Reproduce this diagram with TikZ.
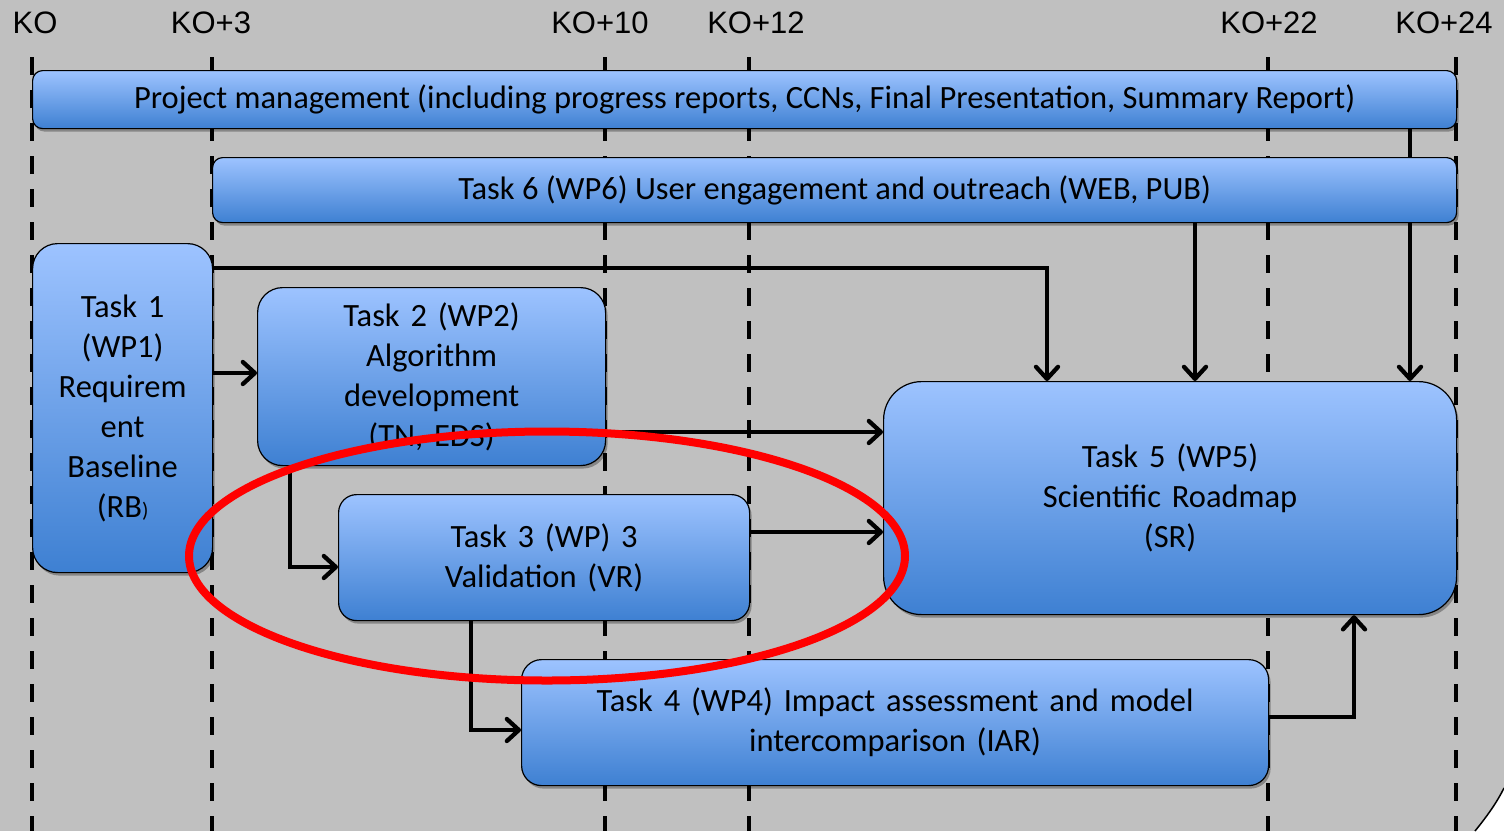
\documentclass[tikz,border=0pt]{standalone}
\usepackage{fontspec}
\setmainfont{Carlito}
\newfontfamily\arialfont{Liberation Sans}
\usetikzlibrary{arrows.meta,shadows,shapes.geometric}
\pgfdeclarelayer{back}
\pgfdeclarelayer{mid}
\pgfsetlayers{back,mid,main}
\definecolor{bgray}{RGB}{192,192,192}
\definecolor{btop}{RGB}{157,195,255}
\definecolor{bbot}{RGB}{62,128,210}
\tikzset{
  task/.style={draw=black, line width=1.2pt, top color=btop, bottom color=bbot,
    inner sep=0pt, anchor=north west, align=center,
    font=\fontsize{32.5}{40}\selectfont,
    drop shadow={shadow xshift=2pt, shadow yshift=-3pt, opacity=0.3, fill=black}},
  kolabel/.style={font=\arialfont\fontsize{31}{31}\selectfont, inner sep=0pt},
  dashline/.style={line width=4.8pt, dash pattern=on 18pt off 15pt},
  arr/.style={line width=4.3pt, -{Straight Barb[length=12pt,width=22pt,round]}},
  ring/.style={ellipse, draw=red, line width=8pt, inner sep=0pt}
}
\begin{document}
\begin{tikzpicture}[x=1pt,y=-1pt]
\useasboundingbox (0,0) rectangle (1504,831);
\begin{pgfonlayer}{back}
  \fill[bgray] (0,0) rectangle (1504,831);
  \fill[white] (1475,831) .. controls (1488,815) and (1497,802) .. (1504,788) -- (1504,831) -- cycle;
  \draw[line width=1.5pt] (1475,831) .. controls (1488,815) and (1497,802) .. (1504,788);
  \foreach \xx in {32,212,605,749,1268,1456}
    \draw[dashline] (\xx,57) -- (\xx,831);
\end{pgfonlayer}

\node[kolabel] (ko0)  at (35,23)   {KO};
\node[kolabel] (ko3)  at (211,23)  {KO+3};
\node[kolabel] (ko10) at (600,23)  {KO+10};
\node[kolabel] (ko12) at (756,23)  {KO+12};
\node[kolabel] (ko22) at (1269,23) {KO+22};
\node[kolabel] (ko24) at (1444,23) {KO+24};

\node[task, rounded corners=10pt, minimum width=1424pt, minimum height=58pt] (pm) at (32,70)
  {Project management (including progress reports, CCNs, Final Presentation, Summary Report)};
\node[task, rounded corners=10pt, minimum width=1244pt, minimum height=65pt] (t6) at (212,157)
  {Task 6 (WP6) User engagement and outreach (WEB, PUB)};
\node[task, rounded corners=25pt, minimum width=180pt, minimum height=329pt, text width=170pt] (t1) at (32,243)
  {Task 1\\(WP1)\\Requirem\\ent\\Baseline\\(RB{\fontsize{21}{21}\selectfont)}};
\node[task, rounded corners=25pt, minimum width=348pt, minimum height=178pt, text width=330pt] (t2) at (257,287)
  {Task 2 (WP2)\\Algorithm\\development\\(TN, EDS)};
\node[task, rounded corners=18pt, minimum width=411pt, minimum height=126pt, text width=400pt] (t3) at (338,494)
  {Task 3 (WP) 3\\Validation (VR)};
\node[task, rounded corners=38pt, minimum width=573pt, minimum height=233pt, text width=560pt] (t5) at (883,381)
  {Task 5 (WP5)\\Scientific Roadmap\\(SR)};
\node[task, rounded corners=20pt, minimum width=747pt, minimum height=126pt, text width=740pt] (t4) at (521,659)
  {Task 4 (WP4) Impact assessment and model\\intercomparison (IAR)};

\begin{pgfonlayer}{mid}
  \draw[arr] (t1.east |- 0,268) -| (1047,0 |- t5.north);
  \draw[arr] (t6.south -| 1195,0) -- (1195,0 |- t5.north);
  \draw[arr] (pm.south -| 1410,0) -- (1410,0 |- t5.north);
  \draw[arr] (t1.east |- 0,373) -- (t2.west |- 0,373);
  \draw[arr] (t2.east |- 0,432) -- (t5.west |- 0,432);
  \draw[arr] (t2.south -| 290,0) |- (t3.west |- 0,567);
  \draw[arr] (t3.east |- 0,532) -- (t5.west |- 0,532);
  \draw[arr] (t3.south -| 471,0) |- (t4.west |- 0,730);
  \draw[arr] (t4.east |- 0,717) -| (1354,0 |- t5.south);
\end{pgfonlayer}

\node[ring, minimum width=716pt, minimum height=249pt] (circ) at (547,556) {};
\end{tikzpicture}
\end{document}
